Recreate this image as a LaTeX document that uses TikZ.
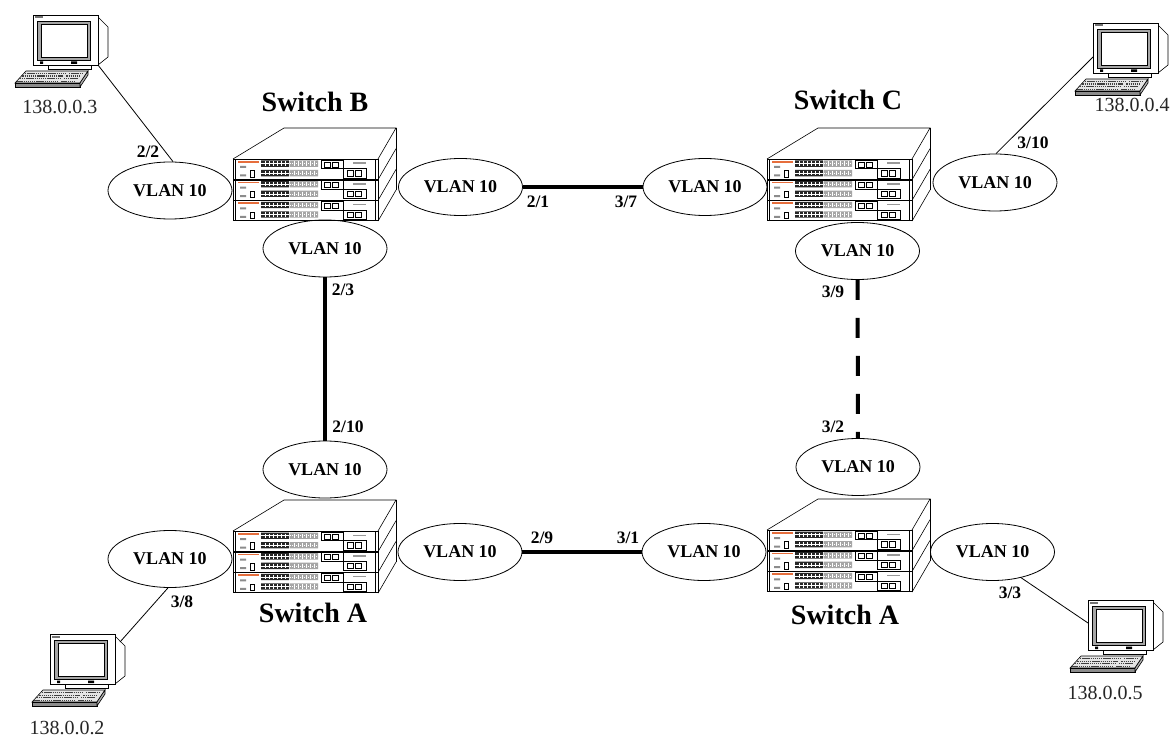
\documentclass[tikz,border=0pt]{standalone}
\usepackage{fontspec}
\setmainfont{Liberation Serif}
\usepackage{tikz}
\usetikzlibrary{shapes.geometric,positioning,calc}
\usepackage{xcolor}
\definecolor{logoorange}{RGB}{230,110,60}

\begin{document}
\begin{tikzpicture}[
    x=1pt, y=-1pt,
    vlan/.style={
        draw,
        ellipse,
        line width=0.8pt,
        minimum width=124pt,
        minimum height=57pt,
        inner sep=0pt,
        font=\bfseries\fontsize{18}{20}\selectfont
    },
    port/.style={inner sep=0pt, font=\bfseries\fontsize{17.5}{19}\selectfont},
    ip/.style={inner sep=0pt, text=black!85, font=\fontsize{20}{22}\selectfont},
    swlabel/.style={inner sep=0pt, font=\bfseries\fontsize{28}{30}\selectfont},
    link/.style={draw, line width=0.8pt},
    trunk/.style={draw, line width=4pt},
    switchstack/.pic={
        % top and right side
        \draw[line width=0.6pt] (0,0) -- (51,-31) -- (163,-31) -- (145,0);
        \draw[line width=0.6pt] (163,-31) -- (163,31);
        \foreach \k in {1,2,3}
            \draw[line width=0.6pt] (145,20.7*\k) -- (163,20.7*\k-31);
        % three front panels
        \foreach \k in {0,1,2} {
            \begin{scope}[shift={(0,20.7*\k)}]
                \draw[fill=white, line width=0.8pt] (0,0.4) rectangle (145,20.3);
                \draw[line width=0.4pt] (2.5,0.4) -- (2.5,20.3) (142.5,0.4) -- (142.5,20.3);
                \fill[logoorange] (5,2) rectangle (26,3.6);
                \fill[black!45] (7,7) rectangle (13,9) (7,15.5) rectangle (13,17.5);
                \draw[line width=0.4pt] (17,11.5) rectangle (21,18);
                \fill[black!85] (28,1.5) rectangle (56,7.8) (28,11) rectangle (56,17.3);
                \fill[black!35] (57,1.5) rectangle (85,7.8) (57,11) rectangle (85,17.3);
                \draw[white, line width=0.5pt] (28,4.6) -- (56,4.6) (28,14.1) -- (56,14.1);
                \draw[white, line width=0.4pt, dash pattern=on 1pt off 1pt]
                    (57,4.6) -- (85,4.6) (57,14.1) -- (85,14.1);
                \foreach \p in {1,...,6} {
                    \draw[white, line width=0.5pt] (28+4*\p,2.5) -- ++(0,4.3) (28+4*\p,12) -- ++(0,4.3);
                    \draw[white, line width=0.4pt] (57+4*\p,2.5) -- ++(0,4.3) (57+4*\p,12) -- ++(0,4.3);
                }
                \draw[line width=0.5pt] (88,1) rectangle (110,9.5);
                \draw[line width=0.5pt] (91,3) rectangle (97,8) (99,3) rectangle (105,8);
                \draw[line width=0.5pt] (110,9.5) rectangle (133,19);
                \draw[line width=0.5pt] (114,11.5) rectangle (120,17) (122,11.5) rectangle (128,17);
                \fill[black!40] (120,3.5) rectangle (133,5);
            \end{scope}
        }
    },
    computer/.pic={
        % rear housing and stand
        \draw[fill=white, line width=0.6pt] (65,2) -- (75,12) -- (75,42) -- (65,50) -- cycle;
        \draw[fill=white, line width=0.6pt] (15,50) rectangle (58,54);
        % bezel and screen
        \draw[fill=white, line width=0.7pt] (0,0) rectangle (65,50);
        \draw[fill=black!35, line width=0.5pt] (4,6) rectangle (57,45);
        \draw[fill=white, line width=0.5pt] (8,9.5) rectangle (54,42);
        \fill[black!55] (2,1.5) rectangle (10,3.5);
        \fill[black] (7,46.5) rectangle (10,49) (38,46.5) rectangle (44,49);
        % keyboard
        \draw[fill=black!10, line width=0.6pt] (-7,56) -- (55,56) -- (47,68) -- (-18,68) -- cycle;
        \draw[fill=black!45, line width=0.6pt] (-18,68) -- (47,68) -- (47,72) -- (-18,72) -- cycle;
        \draw[fill=black!30, line width=0.6pt] (47,68) -- (55,56) -- (55,60) -- (47,72) -- cycle;
        \foreach \r in {0,...,3}
            \draw[black!75, line width=1.2pt, dash pattern=on 1.4pt off 0.7pt]
                (-8-2.6*\r,58.5+2.6*\r) -- (32-2.6*\r,58.5+2.6*\r)
                (36-2.6*\r,58.5+2.6*\r) -- (50-2.6*\r,58.5+2.6*\r);
        \coordinate (-se) at (65,50);
        \coordinate (-wl) at (0,34);
        \coordinate (-wm) at (0,23);
        \coordinate (-ne) at (70,8);
    }
]

\useasboundingbox[fill=white] (0,0) rectangle (1176,743);

% switches
\pic (swB) at (233,159) {switchstack};
\pic (swC) at (767,159) {switchstack};
\pic (swA) at (233,531) {switchstack};
\pic (swD) at (767,530) {switchstack};

\node[swlabel] (labB) at (315,102) {Switch B};
\node[swlabel] (labC) at (848,100) {Switch C};
\node[swlabel] (labA) at (313,613) {Switch A};
\node[swlabel] (labD) at (845,615) {Switch A};

% computers
\pic (pcB) at (33,15) {computer};
\pic (pcC) at (1093,23) {computer};
\pic (pcA) at (50,634) {computer};
\pic (pcD) at (1088,600) {computer};

\node[ip] (ipB) at (60,107) {138.0.0.3};
\node[ip] (ipC) at (1132,105) {138.0.0.4};
\node[ip] (ipA) at (67,728) {138.0.0.2};
\node[ip] (ipD) at (1105,693) {138.0.0.5};

% vlan ellipses
\node[vlan] (vB1) at (170,190.5) {VLAN 10};
\node[vlan] (vB2) at (460.5,187) {VLAN 10};
\node[vlan] (vB3) at (325,248.5) {VLAN 10};
\node[vlan] (vC1) at (705,187) {VLAN 10};
\node[vlan] (vC2) at (995,182.5) {VLAN 10};
\node[vlan] (vC3) at (857.5,251) {VLAN 10};
\node[vlan] (vA1) at (325,469.5) {VLAN 10};
\node[vlan] (vA2) at (170,559) {VLAN 10};
\node[vlan] (vA3) at (460,552) {VLAN 10};
\node[vlan] (vD1) at (858,467) {VLAN 10};
\node[vlan] (vD2) at (704,552) {VLAN 10};
\node[vlan] (vD3) at (992.5,552) {VLAN 10};

% connectors
\draw[link] (pcB-se) -- (vB1.84);
\draw[link] (pcC-wl) -- (vC2.88);
\draw[link] (pcA-ne) -- (vA2.-94);
\draw[link] (pcD-wm) -- (vD3.-42);
\draw[trunk] (vB2) -- (vC1);
\draw[trunk] (vB3) -- (vA1);
\draw[trunk] (vA3) -- (vD2);
\draw[trunk, dash pattern=on 20pt off 18pt] (vC3) -- (vD1);

% port numbers
\node[port] (p22) at (148,152) {2/2};
\node[port] (p21) at (538,202) {2/1};
\node[port] (p37) at (626,202) {3/7};
\node[port] (p310) at (1033,143) {3/10};
\node[port] (p23) at (343,290) {2/3};
\node[port] (p39) at (833,292) {3/9};
\node[port] (p210) at (348,427) {2/10};
\node[port] (p32) at (833,427) {3/2};
\node[port] (p38) at (182,602) {3/8};
\node[port] (p29) at (542,538) {2/9};
\node[port] (p31) at (628,538) {3/1};
\node[port] (p33) at (1010,593) {3/3};

\end{tikzpicture}
\end{document}
